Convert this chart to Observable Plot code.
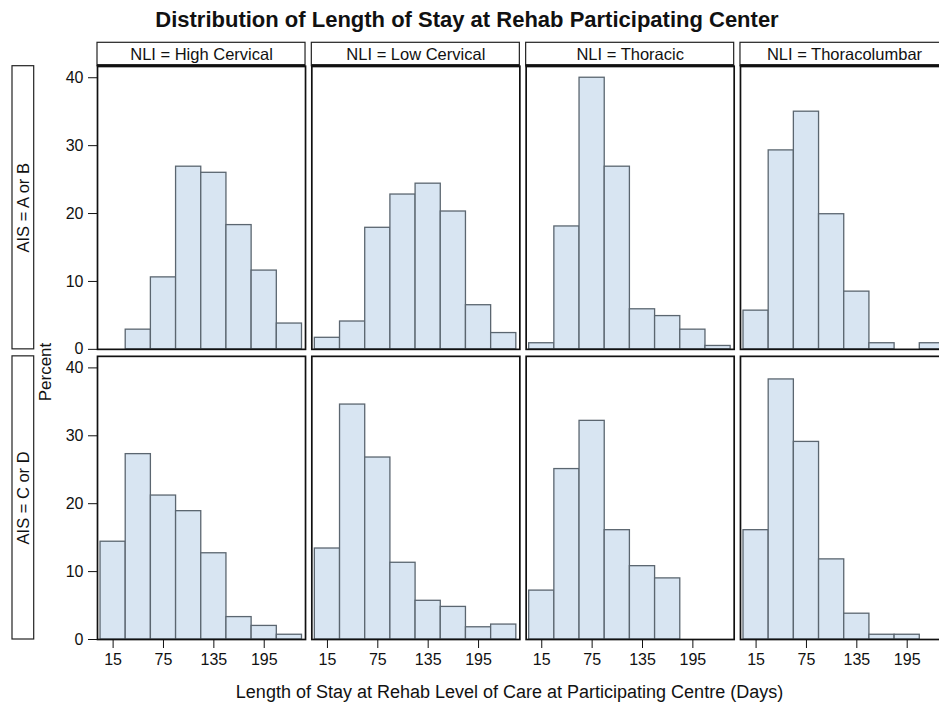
<!DOCTYPE html>
<html>
<head>
<meta charset="utf-8">
<script src="https://cdn.jsdelivr.net/npm/d3@7"></script>
<script src="https://cdn.jsdelivr.net/npm/@observablehq/plot@0.6"></script>
<style>
html,body{margin:0;padding:0;background:#fff;overflow:hidden;width:939px;height:704px;}
#wrap{position:relative;width:939px;height:704px;overflow:hidden;font-family:"Liberation Sans",Arial,sans-serif;color:#111;}
#title{position:absolute;left:0;top:7px;width:934px;text-align:center;font-size:22px;font-weight:bold;line-height:26px;}
#chart{position:absolute;left:0;top:36px;width:960px;height:668px;}
#chart svg{max-width:none !important;}
#xlabel{position:absolute;left:0;top:681px;width:1019px;text-align:center;font-size:18px;line-height:22px;white-space:nowrap;}
#ylabel{position:absolute;left:45px;top:372px;transform:translate(-50%,-50%) rotate(-90deg);font-size:17px;line-height:19px;white-space:nowrap;}
</style>
</head>
<body>
<div id="wrap">
  <div id="title">Distribution of Length of Stay at Rehab Participating Center</div>
  <div id="chart"></div>
  <div id="ylabel">Percent</div>
  <div id="xlabel">Length of Stay at Rehab Level of Care at Participating Centre (Days)</div>
</div>
<script>
// ---- data ----
const nliLevels = ["High Cervical", "Low Cervical", "Thoracic", "Thoracolumbar"];
const aisLevels = ["AIS = A or B", "AIS = C or D"];
const binStarts = [0, 30, 60, 90, 120, 150, 180, 210];
const binWidth = 30;
const xTicks = [15, 75, 135, 195];
const yTicks = [0, 10, 20, 30, 40];

const highCervicalAB = [0, 2.9, 10.6, 26.9, 26.0, 18.3, 11.6, 3.8];
const lowCervicalAB  = [1.7, 4.1, 17.9, 22.8, 24.4, 20.3, 6.5, 2.4];
const thoracicAB     = [0.9, 18.1, 40.0, 26.9, 5.9, 4.9, 2.9, 0.5];
const thoracolumbarAB= [5.7, 29.3, 35.0, 19.9, 8.5, 0.9, 0, 0.9];
const highCervicalCD = [14.4, 27.3, 21.2, 18.9, 12.7, 3.3, 2.0, 0.7];
const lowCervicalCD  = [13.4, 34.6, 26.8, 11.3, 5.7, 4.8, 1.8, 2.2];
const thoracicCD     = [7.2, 25.1, 32.2, 16.1, 10.8, 9.0, 0, 0];
const thoracolumbarCD= [16.1, 38.3, 29.1, 11.8, 3.8, 0.7, 0.7, 0];

const series = [
  {nli: nliLevels[0], ais: aisLevels[0], values: highCervicalAB},
  {nli: nliLevels[1], ais: aisLevels[0], values: lowCervicalAB},
  {nli: nliLevels[2], ais: aisLevels[0], values: thoracicAB},
  {nli: nliLevels[3], ais: aisLevels[0], values: thoracolumbarAB},
  {nli: nliLevels[0], ais: aisLevels[1], values: highCervicalCD},
  {nli: nliLevels[1], ais: aisLevels[1], values: lowCervicalCD},
  {nli: nliLevels[2], ais: aisLevels[1], values: thoracicCD},
  {nli: nliLevels[3], ais: aisLevels[1], values: thoracolumbarCD}
];
const bars = series.flatMap(s => s.values.map((v, i) => ({
  nli: s.nli, ais: s.ais, x1: binStarts[i], x2: binStarts[i] + binWidth, pct: v
}))).filter(d => d.pct > 0);

const headers = nliLevels.map(n => ({nli: n, ais: aisLevels[0]}));
const rowLabels = aisLevels.map(a => ({nli: nliLevels[0], ais: a}));

// ---- layout ----
const W = 960, H = 668;
const ML = 97, MR = 12, MT = 29.7, MB = 65;
const ROW_GAP = 7, COL_GAP = 6.3;
const panelH = (H - MT - MB - ROW_GAP) / 2;
const panelW = (W - ML - MR - 3 * COL_GAP) / 4;

const chart = Plot.plot({
  width: W, height: H,
  marginLeft: ML, marginRight: MR, marginTop: MT, marginBottom: MB,
  style: {fontFamily: '"Liberation Sans", Arial, sans-serif', fontSize: "16px", color: "#111",
          background: "white", overflow: "visible", maxWidth: "none"},
  fx: {domain: nliLevels, paddingInner: COL_GAP / (panelW + COL_GAP), paddingOuter: 0, round: false, axis: null},
  fy: {domain: aisLevels, paddingInner: ROW_GAP / (panelH + ROW_GAP), paddingOuter: 0, round: false, axis: null},
  x: {domain: [-3.6, 244.2]},
  y: {domain: [0, 41.7]},
  marks: [
    Plot.rectY(bars, {fx: "nli", fy: "ais", x1: "x1", x2: "x2", y: "pct",
      fill: "#d8e5f2", stroke: "#5b6670", strokeWidth: 1.3}),
    Plot.frame({stroke: "#111", strokeWidth: 1.7}),
    Plot.rect(headers, {fx: "nli", fy: "ais", fill: "white", stroke: "#222", strokeWidth: 1.2,
      insetTop: -23.4, insetBottom: panelH}),
    Plot.rect(headers, {fx: "nli", fy: "ais", fill: "#111",
      insetTop: -1.6, insetBottom: panelH - 1.6}),
    Plot.text(headers, {fx: "nli", fy: "ais", text: d => "NLI = " + d.nli,
      frameAnchor: "top", dy: -11.7, lineAnchor: "middle", fontSize: 16.5, fill: "#111"}),
    Plot.rect(rowLabels, {fx: "nli", fy: "ais", fill: "white", stroke: "#222", strokeWidth: 1.2,
      insetLeft: -85, insetRight: panelW + 63.3}),
    Plot.text(rowLabels, {fx: "nli", fy: "ais", text: "ais", frameAnchor: "left", dx: -74,
      rotate: -90, textAnchor: "middle", lineAnchor: "middle", fontSize: 16.5, fill: "#111"}),
    Plot.axisX({ticks: xTicks, tickSize: 9, tickPadding: 5, label: null, fontSize: 16}),
    Plot.axisY({ticks: yTicks, tickSize: 9, tickPadding: 5, label: null, fontSize: 16})
  ]
});
document.getElementById("chart").appendChild(chart);
</script>
</body>
</html>
